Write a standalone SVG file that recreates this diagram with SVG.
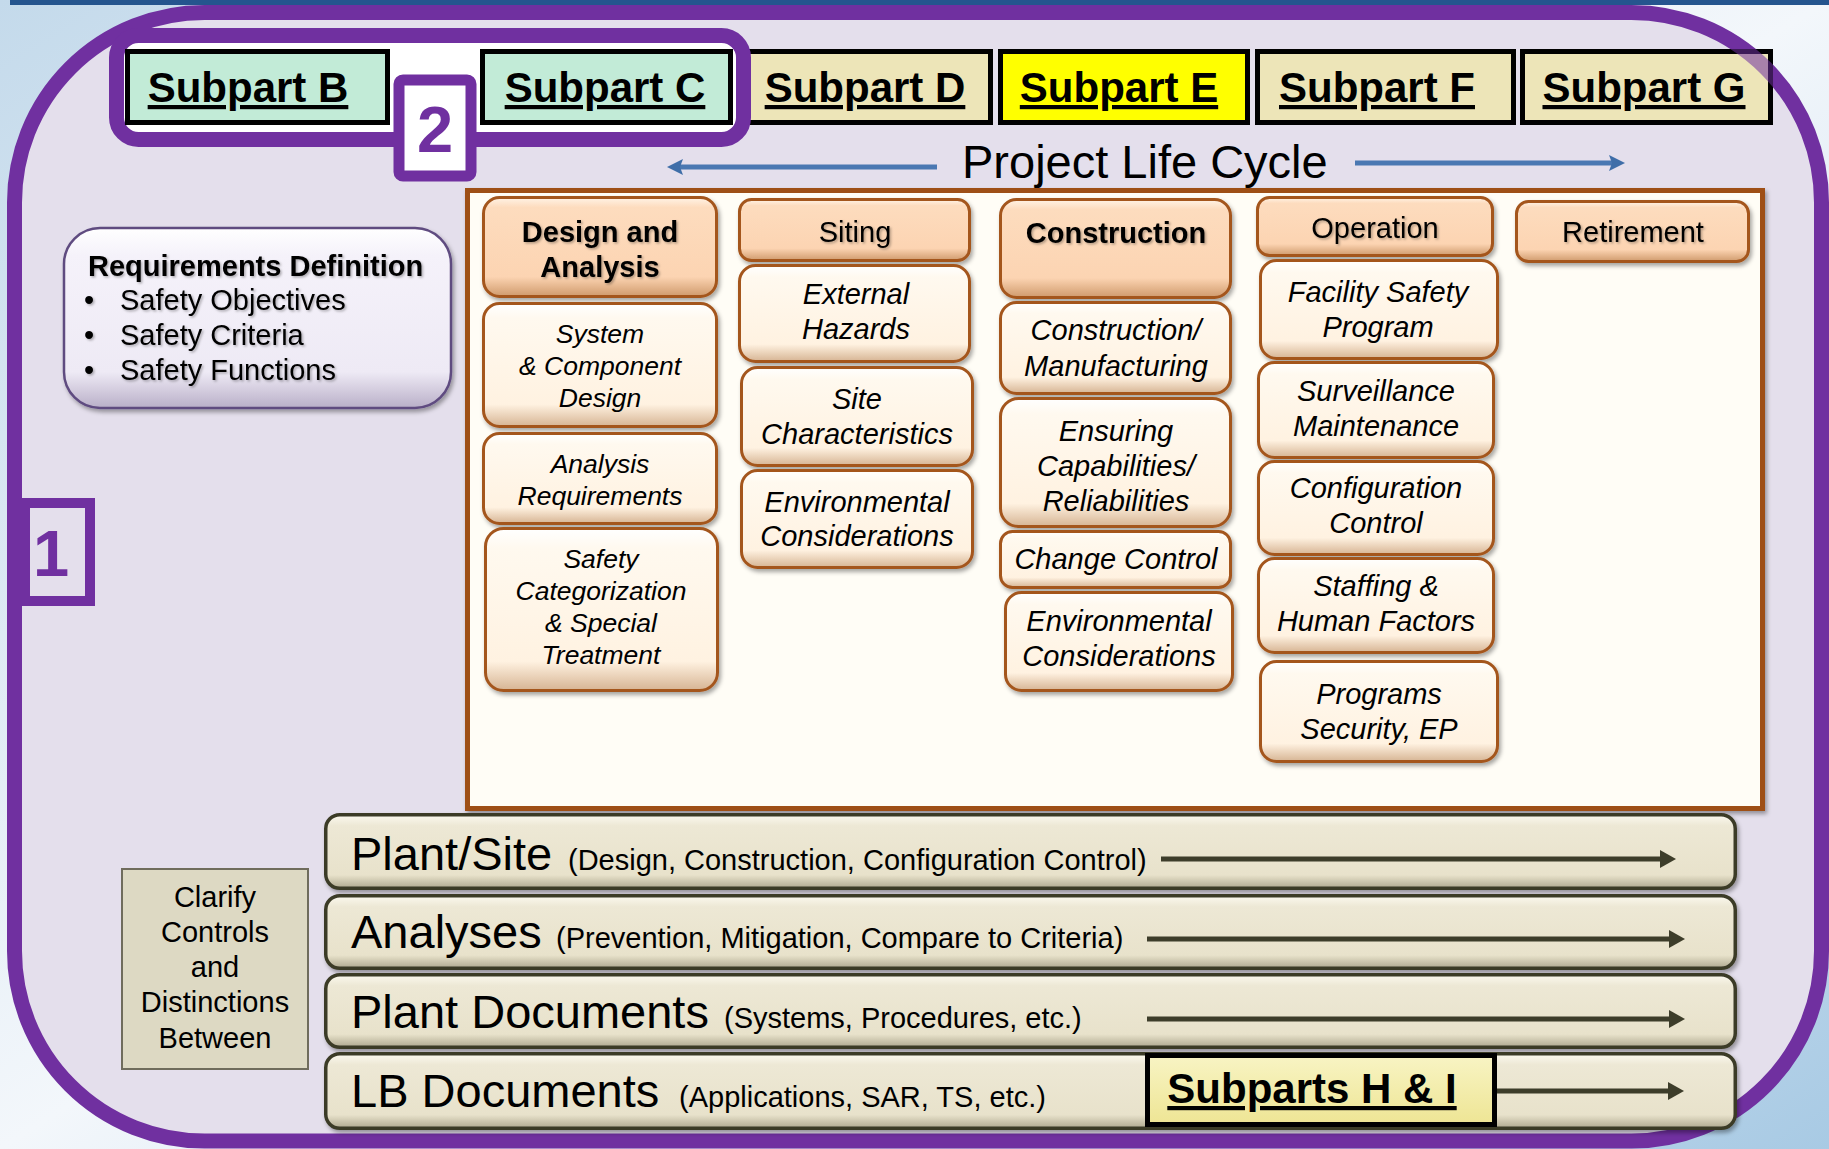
<svg xmlns="http://www.w3.org/2000/svg" width="1829" height="1149" viewBox="0 0 1829 1149">
<defs>
<linearGradient id="bg" x1="0" y1="0" x2="1" y2="1">
<stop offset="0" stop-color="#c4daeb"/>
<stop offset="0.5" stop-color="#f3f7fb"/>
<stop offset="1" stop-color="#a8cae4"/>
</linearGradient>
<linearGradient id="gh" x1="0" y1="0" x2="0" y2="1">
<stop offset="0" stop-color="#fff3e6"/>
<stop offset="0.1" stop-color="#fddcbe"/>
<stop offset="0.8" stop-color="#fcd4b2"/>
<stop offset="1" stop-color="#cf9a6c"/>
</linearGradient>
<linearGradient id="gi" x1="0" y1="0" x2="0" y2="1">
<stop offset="0" stop-color="#ffffff"/>
<stop offset="0.12" stop-color="#fff9ef"/>
<stop offset="0.82" stop-color="#fff2e1"/>
<stop offset="1" stop-color="#d6b493"/>
</linearGradient>
<linearGradient id="gb" x1="0" y1="0" x2="0" y2="1">
<stop offset="0" stop-color="#fbf9ef"/>
<stop offset="0.15" stop-color="#ede8d5"/>
<stop offset="0.82" stop-color="#e8e2cb"/>
<stop offset="1" stop-color="#aea88f"/>
</linearGradient>
<linearGradient id="gr" x1="0" y1="0" x2="0" y2="1">
<stop offset="0" stop-color="#ffffff"/>
<stop offset="0.15" stop-color="#f5f2fa"/>
<stop offset="0.8" stop-color="#eeeaf5"/>
<stop offset="1" stop-color="#b9afc8"/>
</linearGradient>
<linearGradient id="gy" x1="0" y1="0" x2="0" y2="1">
<stop offset="0" stop-color="#f8f4c4"/>
<stop offset="1" stop-color="#eee594"/>
</linearGradient>
<filter id="sh" x="-10%" y="-10%" width="120%" height="130%">
<feDropShadow dx="2" dy="3" stdDeviation="2" flood-color="#000" flood-opacity="0.35"/>
</filter>
<filter id="ts" x="-5%" y="-20%" width="110%" height="140%">
<feDropShadow dx="1.5" dy="1.5" stdDeviation="0.8" flood-color="#000" flood-opacity="0.3"/>
</filter>
<marker id="ah" viewBox="0 0 16 18" refX="8" refY="9" markerWidth="16" markerHeight="18" markerUnits="userSpaceOnUse" orient="auto">
<path d="M0,0 L16,9 L0,18 Z" fill="#3d3d2a"/>
</marker>
<marker id="bh" viewBox="0 0 16 16" refX="8" refY="8" markerWidth="16" markerHeight="16" markerUnits="userSpaceOnUse" orient="auto">
<path d="M0,0 L16,8 L0,16 L3,8 Z" fill="#3f6ea8"/>
</marker>
<clipPath id="gclip"><rect x="1520" y="49" width="253" height="75"/></clipPath>
</defs>
<style>
text{font-family:"Liberation Sans",Arial,sans-serif;fill:#000}
.sp{font-size:42px;font-weight:bold;text-decoration:underline;text-anchor:middle}
.spbox{stroke:#000;stroke-width:5}
.hd{font-size:29px;text-anchor:middle}
.b{font-weight:bold}
.it{font-size:29px;font-style:italic;text-anchor:middle}
.it2{font-size:26.5px;font-style:italic;text-anchor:middle}
.hbox{fill:url(#gh);stroke:#a4561f;stroke-width:3}
.ibox{fill:url(#gi);stroke:#a4561f;stroke-width:3}
.bar{fill:url(#gb);stroke:#3b3a28;stroke-width:3.5}
.big{font-size:47px}
.sm{font-size:29px}
.arr{stroke:#3d3d2a;stroke-width:5;fill:none;marker-end:url(#ah)}
.barr{stroke:#4a78b2;stroke-width:5;fill:none;marker-end:url(#bh)}
.num{font-weight:bold;fill:#7030a0;text-anchor:middle;font-size:65px}
.cl{font-size:29px;text-anchor:middle}
</style>

<rect x="0" y="0" width="1829" height="1149" fill="url(#bg)"/>
<rect x="10" y="0" width="1819" height="5" fill="#25558e"/>
<rect id="outer" x="14.5" y="12.5" width="1807" height="1128.5" rx="190" ry="190" fill="#e4dfec" stroke="#7030a0" stroke-width="15"/>

<g id="subpartD">
<rect class="spbox" x="747.5" y="51.5" width="243" height="71" fill="#ede5b8"/>
<text class="sp" x="865" y="102">Subpart D</text>
</g>

<g id="group2">
<rect x="116.5" y="35.5" width="627" height="104" rx="22" fill="#ffffff" stroke="#7030a0" stroke-width="15"/>
</g>
<g id="subpartB">
<rect class="spbox" x="127.5" y="51.5" width="260" height="71" fill="#c2ebd7"/>
<text class="sp" x="248" y="102">Subpart B</text>
</g>
<g id="subpartC">
<rect class="spbox" x="482.5" y="51.5" width="248" height="71" fill="#c2ebd7"/>
<text class="sp" x="605" y="102">Subpart C</text>
</g>
<g id="label2">
<rect x="399" y="80" width="72" height="96" rx="4" fill="#ffffff" stroke="#7030a0" stroke-width="11"/>
<text class="num" x="435" y="152">2</text>
</g>
<g id="subpartE">
<rect class="spbox" x="1000.5" y="51.5" width="247" height="71" fill="#ffff00"/>
<text class="sp" x="1119" y="102">Subpart E</text>
</g>
<g id="subpartF">
<rect class="spbox" x="1257.5" y="51.5" width="256" height="71" fill="#ede5b8"/>
<text class="sp" x="1377" y="102">Subpart F</text>
</g>
<g id="subpartG">
<rect class="spbox" x="1522.5" y="51.5" width="248" height="71" fill="#ede5b8"/>
<text class="sp" x="1644" y="102">Subpart G</text>
</g>
<rect x="14.5" y="12.5" width="1807" height="1128.5" rx="190" ry="190" fill="none" stroke="#7030a0" stroke-width="15" opacity="0.55" clip-path="url(#gclip)"/>

<g id="projectLifeCycle">
<text x="962" y="178" font-size="47">Project Life Cycle</text>
</g>

<g id="label1">
<rect x="25" y="503" width="65" height="98" fill="none" stroke="#7030a0" stroke-width="10"/>
<text class="num" x="51" y="576">1</text>
</g>

<g id="requirements">
<rect x="64" y="228" width="387" height="180" rx="36" fill="url(#gr)" stroke="#5f4b80" stroke-width="2.5" filter="url(#sh)"/>
<g filter="url(#ts)">
<text x="88" y="276" font-size="29" font-weight="bold">Requirements Definition</text>
<text x="84" y="310" font-size="29">•</text>
<text x="120" y="310" font-size="29">Safety Objectives</text>
<text x="84" y="345" font-size="29">•</text>
<text x="120" y="345" font-size="29">Safety Criteria</text>
<text x="84" y="380" font-size="29">•</text>
<text x="120" y="380" font-size="29">Safety Functions</text>
</g>
</g>

<g id="panel">
<rect x="467.5" y="190.5" width="1295" height="618" fill="#fffdf6" stroke="#9e4f16" stroke-width="5" filter="url(#sh)"/>
</g>

<g id="designAnalysis">
<rect class="hbox" x="483.5" y="197.5" width="233" height="99" rx="16" filter="url(#sh)"/>
<text class="hd b" x="600" y="242" filter="url(#ts)">Design and</text>
<text class="hd b" x="600" y="277" filter="url(#ts)">Analysis</text>
</g>
<g id="systemComponent">
<rect class="ibox" x="483.5" y="303.5" width="233" height="123" rx="16" filter="url(#sh)"/>
<text class="it2" x="600" y="343">System</text>
<text class="it2" x="600" y="375">&amp; Component</text>
<text class="it2" x="600" y="407">Design</text>
</g>
<g id="analysisReq">
<rect class="ibox" x="483.5" y="433.5" width="233" height="90" rx="16" filter="url(#sh)"/>
<text class="it2" x="600" y="473">Analysis</text>
<text class="it2" x="600" y="505">Requirements</text>
</g>
<g id="safetyCat">
<rect class="ibox" x="485.5" y="528.5" width="232" height="162" rx="18" filter="url(#sh)"/>
<text class="it2" x="601" y="568">Safety</text>
<text class="it2" x="601" y="600">Categorization</text>
<text class="it2" x="601" y="632">&amp; Special</text>
<text class="it2" x="601" y="664">Treatment</text>
</g>

<g id="siting">
<rect class="hbox" x="739.5" y="199.5" width="230" height="61" rx="12" filter="url(#sh)"/>
<text class="hd" x="855" y="242" filter="url(#ts)">Siting</text>
</g>
<g id="externalHazards">
<rect class="ibox" x="739.5" y="265.5" width="230" height="96" rx="16" filter="url(#sh)"/>
<text class="it" x="856" y="304">External</text>
<text class="it" x="856" y="339">Hazards</text>
</g>
<g id="siteChar">
<rect class="ibox" x="741.5" y="367.5" width="231" height="98" rx="16" filter="url(#sh)"/>
<text class="it" x="857" y="409">Site</text>
<text class="it" x="857" y="444">Characteristics</text>
</g>
<g id="envSiting">
<rect class="ibox" x="741.5" y="470.5" width="231" height="97" rx="16" filter="url(#sh)"/>
<text class="it" x="857" y="512">Environmental</text>
<text class="it" x="857" y="546">Considerations</text>
</g>

<g id="construction">
<rect class="hbox" x="1000.5" y="199.5" width="230" height="98" rx="16" filter="url(#sh)"/>
<text class="hd b" x="1116" y="243" filter="url(#ts)">Construction</text>
</g>
<g id="constrManuf">
<rect class="ibox" x="1000.5" y="302.5" width="230" height="91" rx="16" filter="url(#sh)"/>
<text class="it" x="1116" y="340">Construction/</text>
<text class="it" x="1116" y="376">Manufacturing</text>
</g>
<g id="ensuring">
<rect class="ibox" x="1000.5" y="398.5" width="230" height="128" rx="18" filter="url(#sh)"/>
<text class="it" x="1116" y="441">Ensuring</text>
<text class="it" x="1116" y="476">Capabilities/</text>
<text class="it" x="1116" y="511">Reliabilities</text>
</g>
<g id="changeControl">
<rect class="ibox" x="1000.5" y="531.5" width="230" height="56" rx="12" filter="url(#sh)"/>
<text class="it" x="1116" y="569">Change Control</text>
</g>
<g id="envConstr">
<rect class="ibox" x="1005.5" y="592.5" width="227" height="98" rx="16" filter="url(#sh)"/>
<text class="it" x="1119" y="631">Environmental</text>
<text class="it" x="1119" y="666">Considerations</text>
</g>

<g id="operation">
<rect class="hbox" x="1257.5" y="197.5" width="235" height="58" rx="12" filter="url(#sh)"/>
<text class="hd" x="1375" y="238" filter="url(#ts)">Operation</text>
</g>
<g id="facilitySafety">
<rect class="ibox" x="1260.5" y="260.5" width="237" height="98" rx="16" filter="url(#sh)"/>
<text class="it" x="1378" y="302">Facility Safety</text>
<text class="it" x="1378" y="337">Program</text>
</g>
<g id="surveillance">
<rect class="ibox" x="1258.5" y="362.5" width="235" height="95" rx="16" filter="url(#sh)"/>
<text class="it" x="1376" y="401">Surveillance</text>
<text class="it" x="1376" y="436">Maintenance</text>
</g>
<g id="configControl">
<rect class="ibox" x="1258.5" y="461.5" width="235" height="93" rx="16" filter="url(#sh)"/>
<text class="it" x="1376" y="498">Configuration</text>
<text class="it" x="1376" y="533">Control</text>
</g>
<g id="staffing">
<rect class="ibox" x="1258.5" y="558.5" width="235" height="94" rx="16" filter="url(#sh)"/>
<text class="it" x="1376" y="596">Staffing &amp;</text>
<text class="it" x="1376" y="631">Human Factors</text>
</g>
<g id="programs">
<rect class="ibox" x="1260.5" y="661.5" width="237" height="100" rx="16" filter="url(#sh)"/>
<text class="it" x="1379" y="704">Programs</text>
<text class="it" x="1379" y="739">Security, EP</text>
</g>

<g id="retirement">
<rect class="hbox" x="1516.5" y="201.5" width="232" height="60" rx="12" filter="url(#sh)"/>
<text class="hd" x="1633" y="242" filter="url(#ts)">Retirement</text>
</g>

<g id="plantSite">
<rect class="bar" x="325.75" y="814.75" width="1409.5" height="73.5" rx="14" filter="url(#sh)"/>
<text class="big" x="351" y="870">Plant/Site</text>
<text class="sm" x="568" y="870">(Design, Construction, Configuration Control)</text>
</g>
<g id="analyses">
<rect class="bar" x="325.75" y="895.75" width="1409.5" height="72.5" rx="14" filter="url(#sh)"/>
<text class="big" x="351" y="948">Analyses</text>
<text class="sm" x="556" y="948">(Prevention, Mitigation, Compare to Criteria)</text>
</g>
<g id="plantDocs">
<rect class="bar" x="325.75" y="974.75" width="1409.5" height="72.5" rx="14" filter="url(#sh)"/>
<text class="big" x="351" y="1028">Plant Documents</text>
<text class="sm" x="724" y="1028">(Systems, Procedures, etc.)</text>
</g>
<g id="lbDocs">
<rect class="bar" x="325.75" y="1053.75" width="1409.5" height="74.5" rx="14" filter="url(#sh)"/>
<text class="big" x="351" y="1107">LB Documents</text>
<text class="sm" x="679" y="1107">(Applications, SAR, TS, etc.)</text>
</g>
<g id="subpartsHI">
<rect x="1147.5" y="1055.5" width="347" height="69" fill="url(#gy)" stroke="#000" stroke-width="5"/>
<text class="sp" x="1312" y="1103">Subparts H &amp; I</text>
</g>

<g id="clarify">
<rect x="122" y="869" width="186" height="200" fill="#ddd9c3" stroke="#6f6c5c" stroke-width="2"/>
<text class="cl" x="215" y="907">Clarify</text>
<text class="cl" x="215" y="942">Controls</text>
<text class="cl" x="215" y="977">and</text>
<text class="cl" x="215" y="1012">Distinctions</text>
<text class="cl" x="215" y="1048">Between</text>
</g>

<g id="connectors">
<line class="barr" x1="937" y1="167" x2="675" y2="167"/>
<line class="barr" x1="1355" y1="163" x2="1617" y2="163"/>
<line class="arr" x1="1161" y1="859" x2="1668" y2="859"/>
<line class="arr" x1="1147" y1="939" x2="1677" y2="939"/>
<line class="arr" x1="1147" y1="1019" x2="1677" y2="1019"/>
<line class="arr" x1="1497" y1="1091" x2="1676" y2="1091"/>
</g>
</svg>
